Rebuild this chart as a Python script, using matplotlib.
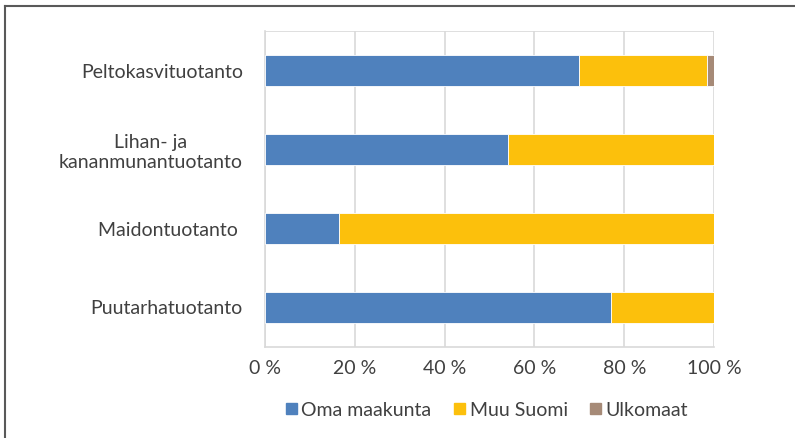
import matplotlib.pyplot as plt
import numpy as np
from matplotlib.patches import Rectangle
from matplotlib.lines import Line2D

categories = ["Peltokasvituotanto", "Lihan- ja\nkananmunantuotanto", "Maidontuotanto ", "Puutarhatuotanto"]
series_names = ["Oma maakunta", "Muu Suomi", "Ulkomaat"]
oma = [69.9, 54.1, 16.5, 77.1]
muu = [28.5, 45.9, 83.5, 22.9]
ulko = [1.6, 0.0, 0.0, 0.0]
xticks = [0, 20, 40, 60, 80, 100]
xticklabels = ["0 %", "20 %", "40 %", "60 %", "80 %", "100 %"]
colors = ["#4F81BD", "#FCC00C", "#A68A77"]

plt.rcParams['font.family'] = ['Lato', 'DejaVu Sans']
txt = "#404040"
fs = 14

fig = plt.figure(figsize=(7.95, 4.38), dpi=100)
W, H = 795, 438
ax = fig.add_axes([265 / W, 1 - 347 / H, (714 - 265) / W, (347 - 31) / H])

y = np.arange(len(categories))
left = np.zeros(len(categories))
for vals, c, name in zip([oma, muu, ulko], colors, series_names):
    ax.barh(y, vals, left=left, height=0.39, color=c, label=name,
            edgecolor="white", linewidth=0.6, zorder=3)
    left = left + np.array(vals)

ax.set_xlim(0, 100)
ax.set_ylim(len(categories) - 0.5, -0.5)
ax.set_xticks(xticks)
ax.set_xticklabels(xticklabels, fontsize=fs, color=txt)
ax.set_yticks(y)
ax.set_yticklabels(categories, fontsize=fs, color=txt, multialignment="center")
ax.tick_params(axis="both", length=0)
ax.tick_params(axis="y", pad=16)
ax.tick_params(axis="x", pad=9)
ax.grid(axis="x", color="#D9D9D9", linewidth=1.2, zorder=0)
for s in ["top", "right"]:
    ax.spines[s].set_visible(False)
for s in ["left", "bottom"]:
    ax.spines[s].set_color("#D9D9D9")
    ax.spines[s].set_linewidth(1.2)
ax.axhline(-0.5, color="#D9D9D9", linewidth=1.2, zorder=0)

handles = [Rectangle((0, 0), 1, 1, color=c) for c in colors]
fig.legend(handles, series_names, loc="center", bbox_to_anchor=(487 / W, 1 - 410 / H),
           ncol=3, frameon=False, fontsize=fs, labelcolor=txt,
           handlelength=0.55, handleheight=0.55, handletextpad=0.25, columnspacing=1.15)

# figure border (left and top)
fig.add_artist(Line2D([5 / W, 5 / W], [0, 1 - 6 / H], transform=fig.transFigure, color="#595959", linewidth=1.5))
fig.add_artist(Line2D([5 / W, 1], [1 - 6 / H, 1 - 6 / H], transform=fig.transFigure, color="#595959", linewidth=1.5))

fig.savefig("out.png", dpi=100)
